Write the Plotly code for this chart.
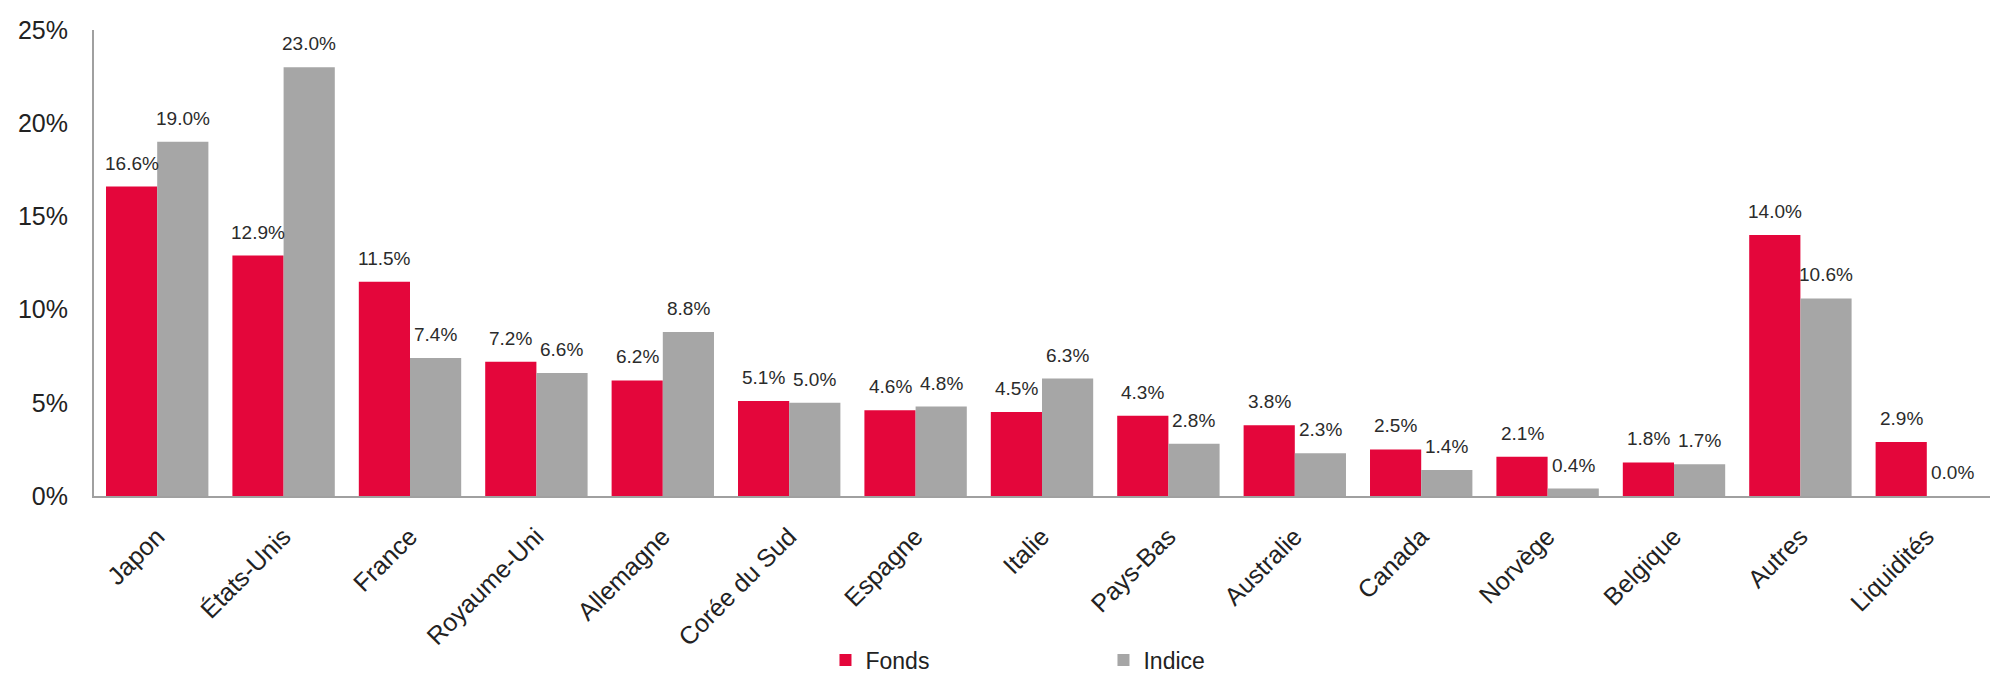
import plotly.graph_objects as go

categories = ["Japon", "États-Unis", "France", "Royaume-Uni", "Allemagne", "Corée du Sud",
              "Espagne", "Italie", "Pays-Bas", "Australie", "Canada", "Norvège",
              "Belgique", "Autres", "Liquidités"]
fonds = [16.6, 12.9, 11.5, 7.2, 6.2, 5.1, 4.6, 4.5, 4.3, 3.8, 2.5, 2.1, 1.8, 14.0, 2.9]
indice = [19.0, 23.0, 7.4, 6.6, 8.8, 5.0, 4.8, 6.3, 2.8, 2.3, 1.4, 0.4, 1.7, 10.6, 0.0]
y_ticks = [0, 5, 10, 15, 20, 25]
y_tick_labels = ["0%", "5%", "10%", "15%", "20%", "25%"]

RED = "#E4063B"
GREY = "#A6A6A6"
FONT = "Liberation Sans, Arial, sans-serif"

W, H = 1990, 677
ML, MR, MT, MB = 94, 0, 30, 181
BARGAP = 0.19
plot_w = W - ML - MR
half_bar = plot_w / len(categories) * (1 - BARGAP) / 4

fig = go.Figure()
fig.add_trace(go.Bar(name="Fonds", x=categories, y=fonds, marker_color=RED,
                     marker_line_width=0))
fig.add_trace(go.Bar(name="Indice", x=categories, y=indice, marker_color=GREY,
                     marker_line_width=0))

annotations = []
for series, shift in ((fonds, -half_bar), (indice, half_bar)):
    for cat, v in zip(categories, series):
        annotations.append(dict(
            x=cat, y=v, xref="x", yref="y", text=f"{v:.1f}%", showarrow=False,
            xshift=shift, yshift=11, yanchor="bottom", xanchor="center",
            font=dict(size=19, color="#2b2b2b", family=FONT)))

fig.update_layout(
    width=W, height=H,
    margin=dict(l=ML, r=MR, t=MT, b=MB, autoexpand=False),
    paper_bgcolor="white", plot_bgcolor="white",
    barmode="group", bargap=BARGAP, bargroupgap=0,
    font=dict(family=FONT, size=24, color="#222222"),
    showlegend=True,
    annotations=annotations,
    legend=dict(orientation="h", x=0.3858, xanchor="left", y=-0.352, yanchor="middle",
                entrywidth=233, entrywidthmode="pixels", tracegroupgap=0,
                font=dict(size=23, color="#222222")),
    xaxis=dict(tickangle=-45, showline=True, linecolor="#A0A0A0", linewidth=2,
               ticks="", showgrid=False, ticklabelstandoff=14, automargin=False,
               tickfont=dict(size=25, color="#222222")),
    yaxis=dict(range=[0, 25], tickvals=y_ticks, ticktext=y_tick_labels,
               showline=True, linecolor="#A0A0A0", linewidth=2, ticks="",
               showgrid=False, zeroline=False, ticklabelstandoff=19, automargin=False,
               tickfont=dict(size=25, color="#222222")),
)

fig.write_html("out.html")
